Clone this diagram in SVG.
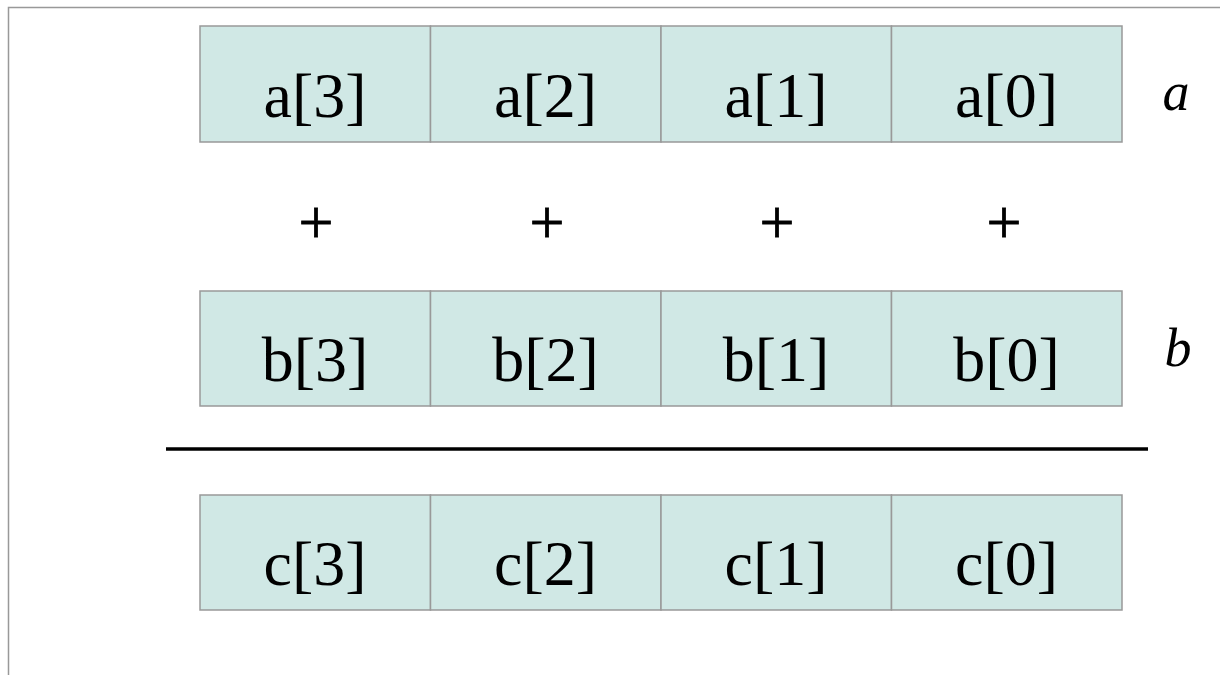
<svg xmlns="http://www.w3.org/2000/svg" width="1220" height="675" viewBox="0 0 1220 675">
<style>
.cell{fill:#d0e8e5;stroke:#999;stroke-width:1.5}
.t{font-family:"Liberation Serif",serif;font-size:64px;fill:#000;text-anchor:middle}
.plus{font-family:"Liberation Serif",serif;font-size:62px;fill:#000;stroke:#000;stroke-width:0.8;text-anchor:middle}
.lbl{font-family:"Liberation Serif",serif;font-style:italic;font-size:54px;fill:#000;text-anchor:middle}
</style>
<rect width="1220" height="675" fill="#fff"/>
<path d="M8.5 675V7.5H1220" fill="none" stroke="#999" stroke-width="1.5"/>
<g id="row-a">
<rect class="cell" x="200" y="26" width="230.5" height="116"/>
<rect class="cell" x="430.5" y="26" width="230.5" height="116"/>
<rect class="cell" x="661" y="26" width="230.5" height="116"/>
<rect class="cell" x="891.5" y="26" width="230.5" height="116"/>
<text class="t" x="315" y="117">a[3]</text>
<text class="t" x="545.5" y="117">a[2]</text>
<text class="t" x="776" y="117">a[1]</text>
<text class="t" x="1006.5" y="117">a[0]</text>
<text class="lbl" x="1176" y="110">a</text>
</g>
<g id="plus-row">
<text class="plus" x="316" y="243">+</text>
<text class="plus" x="547" y="243">+</text>
<text class="plus" x="777" y="243">+</text>
<text class="plus" x="1004" y="243">+</text>
</g>
<g id="row-b">
<rect class="cell" x="200" y="291" width="230.5" height="115"/>
<rect class="cell" x="430.5" y="291" width="230.5" height="115"/>
<rect class="cell" x="661" y="291" width="230.5" height="115"/>
<rect class="cell" x="891.5" y="291" width="230.5" height="115"/>
<text class="t" x="315" y="381">b[3]</text>
<text class="t" x="545.5" y="381">b[2]</text>
<text class="t" x="776" y="381">b[1]</text>
<text class="t" x="1006.5" y="381">b[0]</text>
<text class="lbl" x="1178" y="366">b</text>
</g>
<g id="connectors">
<line x1="166" y1="449" x2="1148" y2="449" stroke="#000" stroke-width="3.5"/>
</g>
<g id="row-c">
<rect class="cell" x="200" y="495" width="230.5" height="115"/>
<rect class="cell" x="430.5" y="495" width="230.5" height="115"/>
<rect class="cell" x="661" y="495" width="230.5" height="115"/>
<rect class="cell" x="891.5" y="495" width="230.5" height="115"/>
<text class="t" x="315" y="585">c[3]</text>
<text class="t" x="545.5" y="585">c[2]</text>
<text class="t" x="776" y="585">c[1]</text>
<text class="t" x="1006.5" y="585">c[0]</text>
</g>
</svg>
